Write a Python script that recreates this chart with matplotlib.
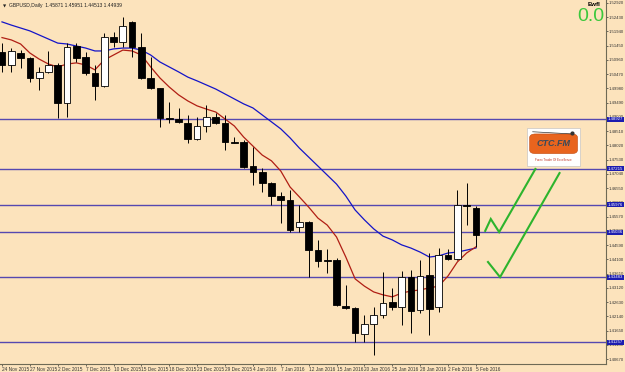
import matplotlib
matplotlib.use('Agg')
import matplotlib.pyplot as plt
from matplotlib.patches import FancyBboxPatch, Rectangle

plt.rcParams['font.family'] = ['Liberation Sans', 'DejaVu Sans']

# GBPUSD daily candles, 24 Nov 2015 .. 5 Feb 2016
opens = [1.5123, 1.5079, 1.5120, 1.5103, 1.5034, 1.5055, 1.5079, 1.4948, 1.5144, 1.5106,
         1.5051, 1.5006, 1.5175, 1.5158, 1.5227, 1.5141, 1.5034, 1.4999, 1.4896, 1.4893,
         1.4879, 1.4824, 1.4869, 1.4900, 1.4879, 1.4814, 1.4814, 1.4731, 1.4711, 1.4673,
         1.4628, 1.4614, 1.4521, 1.4539, 1.4442, 1.4408, 1.4408, 1.4250, 1.4243, 1.4153,
         1.4188, 1.4219, 1.4263, 1.4246, 1.4349, 1.4236, 1.4356, 1.4246, 1.4425, 1.4411,
         1.4597, 1.45871]
highs = [1.5154, 1.5137, 1.5130, 1.5106, 1.5072, 1.5127, 1.5086, 1.5154, 1.5154, 1.5123,
         1.5079, 1.5189, 1.5192, 1.5244, 1.5230, 1.5189, 1.5106, 1.5000, 1.4951, 1.4931,
         1.4907, 1.4900, 1.4941, 1.4914, 1.4907, 1.4831, 1.4821, 1.4797, 1.4724, 1.4676,
         1.4642, 1.4649, 1.4597, 1.4542, 1.4477, 1.4446, 1.4415, 1.4322, 1.4246, 1.4219,
         1.4246, 1.4367, 1.4312, 1.4370, 1.4373, 1.4408, 1.4432, 1.4449, 1.4446, 1.4649,
         1.4673, 1.45951]
lows = [1.5055, 1.5055, 1.5068, 1.5020, 1.4993, 1.5051, 1.4896, 1.4900, 1.5089, 1.5044,
        1.4958, 1.5003, 1.5141, 1.5141, 1.5106, 1.5031, 1.4996, 1.4865, 1.4879, 1.4879,
        1.4810, 1.4821, 1.4848, 1.4876, 1.4786, 1.4810, 1.4724, 1.4666, 1.4642, 1.4597,
        1.4535, 1.4504, 1.4504, 1.4349, 1.4384, 1.4363, 1.4250, 1.4239, 1.4126, 1.4126,
        1.4081, 1.4208, 1.4236, 1.4184, 1.4157, 1.4226, 1.4150, 1.4229, 1.4408, 1.4408,
        1.4528, 1.44513]
closes = [1.5079, 1.5127, 1.5103, 1.5034, 1.5055, 1.5079, 1.4948, 1.5141, 1.5103, 1.5051,
          1.5006, 1.5175, 1.5158, 1.5213, 1.5141, 1.5034, 1.4999, 1.4896, 1.4894, 1.4883,
          1.4824, 1.4869, 1.4900, 1.4879, 1.4814, 1.4812, 1.4728, 1.4711, 1.4673, 1.4628,
          1.4614, 1.4511, 1.4539, 1.4442, 1.4404, 1.4406, 1.4253, 1.4243, 1.4157, 1.4188,
          1.4219, 1.4260, 1.4246, 1.4349, 1.4232, 1.4353, 1.4239, 1.4425, 1.4411, 1.4597,
          1.4594, 1.44939]

# moving averages as shown on the chart
ma_red = [1.5173, 1.5165, 1.5151, 1.5120, 1.5099, 1.5082, 1.5072, 1.5082, 1.5086, 1.5079,
          1.5062, 1.5096, 1.5113, 1.5130, 1.5127, 1.5113, 1.5072, 1.5034, 1.5003, 1.4976,
          1.4955, 1.4938, 1.4927, 1.4917, 1.4893, 1.4869, 1.4831, 1.4800, 1.4769, 1.4749,
          1.4714, 1.4659, 1.4625, 1.4590, 1.4552, 1.4528, 1.4487, 1.4418, 1.4343, 1.4318,
          1.4298, 1.4288, 1.4281, 1.4294, 1.4301, 1.4305, 1.4312, 1.4318, 1.4353, 1.4401,
          1.4432, 1.4453]
ma_blue = [1.5227, 1.5216, 1.5206, 1.5196, 1.5182, 1.5168, 1.5154, 1.5151, 1.5144, 1.5137,
           1.5127, 1.5127, 1.5134, 1.5137, 1.5137, 1.5130, 1.5113, 1.5089, 1.5072, 1.5055,
           1.5037, 1.5024, 1.5010, 1.4996, 1.4979, 1.4962, 1.4945, 1.4931, 1.4907, 1.4883,
           1.4859, 1.4828, 1.4793, 1.4762, 1.4731, 1.4700, 1.4669, 1.4628, 1.4580, 1.4546,
           1.4515, 1.4490, 1.4477, 1.4460, 1.4449, 1.4435, 1.4418, 1.4422, 1.4432, 1.4435,
           1.4442, 1.4449]

levels = [1.48927, 1.47215, 1.45976, 1.45036, 1.43483, 1.41257]

date_labels = ['24 Nov 2015', '27 Nov 2015', '2 Dec 2015', '7 Dec 2015', '10 Dec 2015',
               '15 Dec 2015', '18 Dec 2015', '23 Dec 2015', '29 Dec 2015', '4 Jan 2016',
               '7 Jan 2016', '12 Jan 2016', '15 Jan 2016', '20 Jan 2016', '25 Jan 2016',
               '28 Jan 2016', '2 Feb 2016', '5 Feb 2016']

price_ticks = [1.52920, 1.52430, 1.51940, 1.51450, 1.50960, 1.50470, 1.49980, 1.49490,
               1.49000, 1.48510, 1.48020, 1.47530, 1.47040, 1.46550, 1.46060, 1.45570,
               1.45080, 1.44590, 1.44100, 1.43610, 1.43120, 1.42630, 1.42140, 1.41650,
               1.41160, 1.40670]

# green "tick" sketches (bar index, price)
check1_x = [52.0, 52.6, 53.5, 57.4]
check1_y = [1.4508, 1.4549, 1.4504, 1.4721]
check2_x = [52.3, 53.6, 60.0]
check2_y = [1.4401, 1.4349, 1.4707]

bg = '#FCE3BC'
fig = plt.figure(figsize=(6.25, 3.72), dpi=100, facecolor=bg)
ax = fig.add_axes([0, 8 / 372, 606 / 625, 364 / 372], facecolor=bg)

# horizontal levels
for lv in levels:
    ax.axhline(lv, color='#5548B0', lw=1.0, zorder=1)

# moving averages
idx = list(range(len(closes)))
ax.plot(idx, ma_blue, color='#1414C8', lw=0.9, zorder=2)
ax.plot(idx, ma_red, color='#B01E14', lw=0.9, zorder=2)

# candles
for i in idx:
    o, h, l, c = opens[i], highs[i], lows[i], closes[i]
    ax.vlines(i, l, h, color='black', lw=0.7, zorder=3)
    bottom = min(o, c)
    height = max(abs(c - o), 0.00006)
    face = 'white' if c > o else 'black'
    ax.bar(i, height, bottom=bottom, width=0.72, color=face, edgecolor='black',
           linewidth=0.6, zorder=4)

ax.plot(check1_x, check1_y, color='#2DB42D', lw=1.5, zorder=5, solid_joinstyle='miter')
ax.plot(check2_x, check2_y, color='#2DB42D', lw=1.5, zorder=5, solid_joinstyle='miter')

ax.set_xlim(-0.215, 65.0)
ax.set_ylim(1.40501, 1.53023)

# axes styling like the terminal
for s in ['top', 'left']:
    ax.spines[s].set_visible(False)
for s in ['right', 'bottom']:
    ax.spines[s].set_color('#6E6A55')
    ax.spines[s].set_linewidth(0.8)

ax.yaxis.tick_right()
ax.set_yticks(price_ticks)
ax.set_yticklabels(['%.5f' % p for p in price_ticks])
ax.tick_params(axis='y', labelsize=3.1, length=1.2, pad=0.6, colors='#333333', width=0.5)

ax.set_xticks(list(range(0, 52, 3)))
ax.set_xticklabels(date_labels, ha='left')
ax.tick_params(axis='x', labelsize=3.4, length=1.5, pad=0.8, colors='#333333', width=0.5)

# level price tags on the price scale
for lv in levels:
    ax.text(1.003, lv, '%.5f' % lv, transform=ax.get_yaxis_transform(), ha='left',
            va='center', fontsize=3.1, color='white', clip_on=False, zorder=6,
            bbox=dict(boxstyle='square,pad=0.12', fc='#1C1CB0', ec='none'))

# header text
fig.text(0.004, 0.989, '\u25bc', fontsize=3, va='top', color='#222222',
         family='DejaVu Sans')
fig.text(0.014, 0.991, 'GBPUSD,Daily  1.45871 1.45951 1.44513 1.44939', fontsize=3.6,
         va='top', color='#222222')
ax.text(0.98, 0.989, 'Ewfl', transform=ax.transAxes, fontsize=4.5, fontweight='bold',
        ha='center', va='center', color='black')
ax.text(0.975, 0.955, '0.0', transform=ax.transAxes, fontsize=14, ha='center',
        va='center', color='#3CC83C')

# small logo box
ax.add_patch(Rectangle((0.8696, 0.544), 0.088, 0.104, transform=ax.transAxes,
                       fc='white', ec='#BBBBBB', lw=0.4, zorder=6))
ax.add_patch(FancyBboxPatch((0.876, 0.58), 0.075, 0.05, transform=ax.transAxes,
                            boxstyle='round,pad=0.002,rounding_size=0.01',
                            fc='#E8641E', ec='#C04A10', lw=0.4, zorder=7))
ax.plot([0.879, 0.944], [0.638, 0.632], transform=ax.transAxes, color='#333333',
        lw=0.5, zorder=8)
ax.plot([0.944], [0.634], 'o', transform=ax.transAxes, color='#333333', ms=2, zorder=8)
ax.text(0.9135, 0.605, 'CTC.FM', transform=ax.transAxes, fontsize=6.5,
        fontweight='bold', style='italic', ha='center', va='center', color='#3A4A5A',
        zorder=8)
ax.text(0.9135, 0.561, 'Forex Trader Of Excellence', transform=ax.transAxes,
        fontsize=2.2, ha='center', va='center', color='#C03020', zorder=8)

fig.savefig('out.png', dpi=100, facecolor=bg)
